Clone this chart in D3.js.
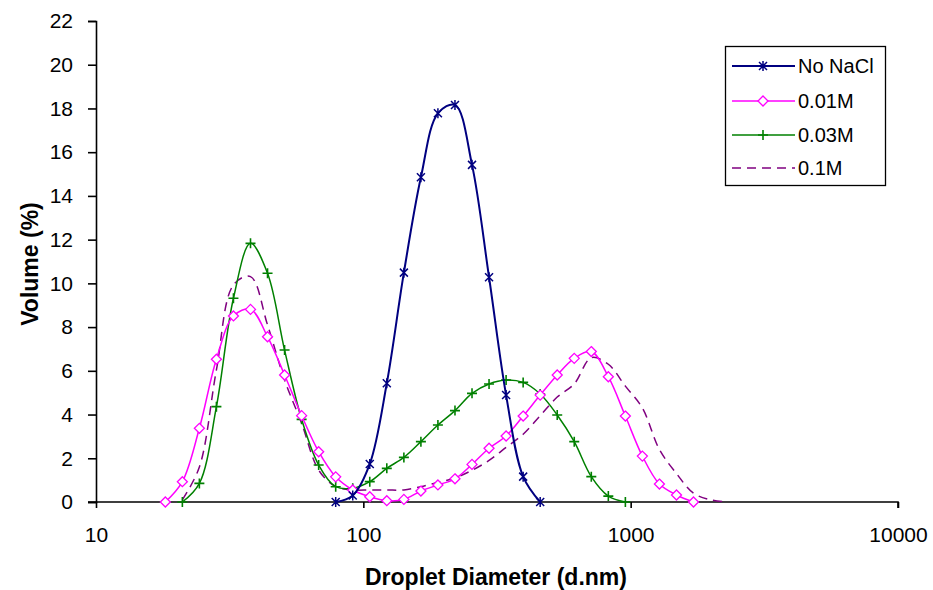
<!DOCTYPE html>
<html>
<head>
<meta charset="utf-8">
<script src="https://cdn.jsdelivr.net/npm/d3@7"></script>
<style>
	body { margin: 0; background: white; }
	text { font-family: "Liberation Sans", Arial, sans-serif; }
</style>
</head>
<body>
<div id="root"></div>
<script>
//droplet size classes (d.nm), log spaced
const diameters = [18.17, 21.04, 24.36, 28.21, 32.67, 37.84, 43.82, 50.75, 58.77, 68.06,
	78.82, 91.28, 105.7, 122.4, 141.8, 164.2, 190.1, 220.2, 255.0, 295.3,
	342.0, 396.1, 458.7, 531.2, 615.1, 712.4, 825.0, 955.4, 1106, 1281,
	1484, 1718, 1990, 2305];

//volume (%) per class, null = not plotted
const noNaCl = [null, null, null, null, null, null, null, null, null, null,
	0, 0.3, 1.74, 5.43, 10.49, 14.85, 17.78, 18.16, 15.42, 10.28,
	4.89, 1.16, 0, null, null, null, null, null, null, null,
	null, null, null, null];
const m001 = [0, 0.93, 3.37, 6.53, 8.51, 8.81, 7.56, 5.81, 3.95, 2.3,
	1.15, 0.55, 0.24, 0.06, 0.12, 0.5, 0.78, 1.06, 1.72, 2.46,
	3.02, 3.93, 4.89, 5.81, 6.57, 6.88, 5.73, 3.93, 2.1, 0.82,
	0.32, 0, null, null];
const m003 = [null, 0, 0.85, 4.36, 9.32, 11.83, 10.46, 6.95, 3.78, 1.69,
	0.7, 0.63, 0.93, 1.54, 2.04, 2.76, 3.52, 4.18, 4.97, 5.4,
	5.58, 5.47, 4.94, 3.98, 2.76, 1.16, 0.27, 0, null, null,
	null, null, null, null];
const m01 = [null, 0.1, 1.6, 6.04, 9.93, 10.31, 8.1, 5.58, 3.6, 1.46,
	0.7, 0.55, 0.55, 0.55, 0.55, 0.7, 0.9, 1.1, 1.45, 1.9,
	2.5, 3.1, 3.95, 4.8, 5.4, 6.6, 6.3, 5.3, 4.3, 2.4,
	1.3, 0.4, 0.1, 0];

const seriesNames = ["No NaCl", "0.01M", "0.03M", "0.1M"];
const xTicks = [10, 100, 1000, 10000];
const yTicks = [0, 2, 4, 6, 8, 10, 12, 14, 16, 18, 20, 22];

const width = 933;
const height = 590;

const svg = d3.select("#root")
	.append("svg")
	.attr("width", width)
	.attr("height", height);

const xScale = d3.scaleLog()
	.domain([10, 10000])
	.range([96, 898]);

const yScale = d3.scaleLinear()
	.domain([0, 22])
	.range([502, 21]);

//style of each series
const series = [
	{name: seriesNames[0], values: noNaCl, color: "#000080", width: 2, dash: null, marker: "star"},
	{name: seriesNames[1], values: m001, color: "#ff00ff", width: 1.5, dash: null, marker: "diamond"},
	{name: seriesNames[2], values: m003, color: "#008000", width: 1.5, dash: null, marker: "plus"},
	{name: seriesNames[3], values: m01, color: "#800080", width: 1.5, dash: "9,6", marker: null}
];

//y axis
const yAxis = d3.axisLeft(yScale).tickValues(yTicks).tickSize(8).tickPadding(15);
const gy = svg.append("g")
	.attr("transform", "translate(96,0)")
	.call(yAxis);

//x axis
const xAxis = d3.axisBottom(xScale).tickValues(xTicks).tickFormat(d3.format("d")).tickSize(6).tickPadding(19);
const gx = svg.append("g")
	.attr("transform", "translate(0,502)")
	.call(xAxis);

[gx, gy].forEach(function(g){
	g.select(".domain").attr("stroke", "#000").attr("stroke-width", 1.6);
	g.selectAll(".tick line").attr("stroke", "#000").attr("stroke-width", 1.6);
	g.selectAll(".tick text")
	.attr("fill", "#000")
	.style("font-size", "21px")
	.style("font-family", "'Liberation Sans', Arial, sans-serif");
});
//x axis continues a bit to the left of the y axis
gx.select(".domain").attr("d", "M88,0H898V6");

//axis titles
svg.append("text")
	.attr("x", 496)
	.attr("y", 585)
	.attr("text-anchor", "middle")
	.style("font-size", "23px")
	.style("font-weight", "bold")
	.text("Droplet Diameter (d.nm)");

svg.append("text")
	.attr("transform", "translate(38,264) rotate(-90)")
	.attr("text-anchor", "middle")
	.style("font-size", "23px")
	.style("font-weight", "bold")
	.text("Volume (%)");

//draw one marker shape at 0,0
function drawMarker(g, type, color){
	if(type === "star"){
		g.append("path").attr("d", "M-4,-4L4,4M-4,4L4,-4M0,-5V5")
		.attr("stroke", color).attr("stroke-width", 1.5).attr("fill", "none");
	}
	else if(type === "diamond"){
		g.append("path").attr("d", "M0,-5L5,0L0,5L-5,0Z")
		.attr("stroke", color).attr("stroke-width", 1.3).attr("fill", "white");
	}
	else if(type === "plus"){
		g.append("path").attr("d", "M-5,0H5M0,-5V5")
		.attr("stroke", color).attr("stroke-width", 1.6).attr("fill", "none");
	}
}

const line = d3.line()
	.defined((d) => d[1] !== null)
	.x((d) => xScale(d[0]))
	.y((d) => yScale(d[1]))
	.curve(d3.curveCatmullRom);

//lines, drawn in reverse so No NaCl stays on top
series.slice().reverse().forEach(function(s){
	const pts = diameters.map((d, i) => [d, s.values[i]]);
	svg.append("path")
	.datum(pts)
	.attr("d", line)
	.attr("fill", "none")
	.attr("stroke", s.color)
	.attr("stroke-width", s.width)
	.attr("stroke-dasharray", s.dash);

	if(s.marker){
		svg.append("g")
		.selectAll("g")
		.data(pts.filter((d) => d[1] !== null))
		.enter()
		.append("g")
		.attr("transform", (d) => "translate(" + xScale(d[0]) + "," + yScale(d[1]) + ")")
		.each(function(){ drawMarker(d3.select(this), s.marker, s.color); });
	}
});

//legend
const legend = svg.append("g");
legend.append("rect")
	.attr("x", 725.5)
	.attr("y", 46.5)
	.attr("width", 160)
	.attr("height", 139)
	.attr("fill", "white")
	.attr("stroke", "#000")
	.attr("stroke-width", 1.3);

const legendY = [66, 101, 135, 168];
series.forEach(function(s, i){
	legend.append("line")
	.attr("x1", 732).attr("x2", 795)
	.attr("y1", legendY[i]).attr("y2", legendY[i])
	.attr("stroke", s.color)
	.attr("stroke-width", s.width)
	.attr("stroke-dasharray", s.dash);
	if(s.marker){
		drawMarker(legend.append("g").attr("transform", "translate(763," + legendY[i] + ")"), s.marker, s.color);
	}
	legend.append("text")
	.attr("x", 798)
	.attr("y", legendY[i] + 7)
	.style("font-size", "20px")
	.text(s.name);
});
</script>
</body>
</html>
